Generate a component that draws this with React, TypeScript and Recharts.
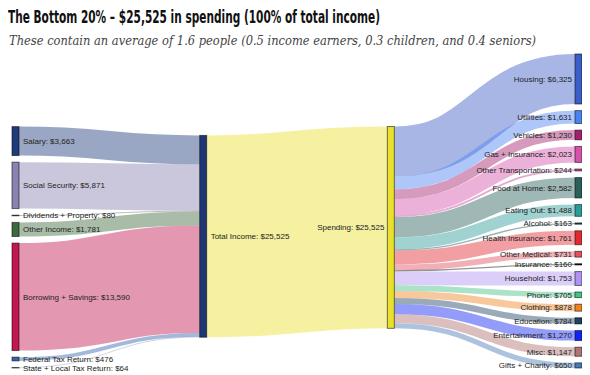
import React from 'react';
import { Sankey, Layer } from 'recharts';

const titleText = 'The Bottom 20% – $25,525 in spending (100% of total income)';
const subtitleText = 'These contain an average of 1.6 people (0.5 income earners, 0.3 children, and 0.4 seniors)';

const incomeSources = ['Salary', 'Social Security', 'Dividends + Property', 'Other Income', 'Borrowing + Savings', 'Federal Tax Return', 'State + Local Tax Return'];
const incomeValues = [3663, 5871, 80, 1781, 13590, 476, 64];
const totalIncomeLabel = 'Total Income';
const spendingLabel = 'Spending';
const spendingCategories = ['Housing', 'Utilities', 'Vehicles', 'Gas + Insurance', 'Other Transportation', 'Food at Home', 'Eating Out', 'Alcohol', 'Health Insurance', 'Other Medical', 'Insurance', 'Household', 'Phone', 'Clothing', 'Education', 'Entertainment', 'Misc', 'Gifts + Charity'];
const spendingValues = [6325, 1631, 1230, 2023, 244, 2582, 1488, 163, 1761, 731, 160, 1753, 705, 878, 784, 1270, 1147, 650];

const incomeColors = ['#1f3b7c', '#8a83b2', '#1a1a1a', '#3d6a3d', '#c0184f', '#3462b0', '#2c4a7c'];
const totalColor = '#1e3674';
const spendingColor = '#e8e02c';
const spendingColors = ['#3b5ec6', '#4c82f0', '#a3206c', '#d452aa', '#c24896', '#2b5f5b', '#2a9c99', '#1e5454', '#e02a30', '#e0505e', '#111111', '#b092f2', '#42c283', '#f08322', '#1f4262', '#1024f2', '#b07272', '#4a78b6'];

const sum = (a: number[]) => a.reduce((s, v) => s + v, 0);

const nodeNames = [...incomeSources, totalIncomeLabel, spendingLabel, ...spendingCategories];
const nodeColors = [...incomeColors, totalColor, spendingColor, ...spendingColors];
const totalIdx = incomeSources.length;
const spendIdx = totalIdx + 1;

const links = [
  ...incomeValues.map((v, i) => ({ source: i, target: totalIdx, value: v })),
  { source: totalIdx, target: spendIdx, value: sum(spendingValues) },
  ...spendingValues.map((v, j) => ({ source: spendIdx, target: spendIdx + 1 + j, value: v })),
];
const linkColors = [...incomeColors, spendingColor, ...spendingColors];

const data = { nodes: nodeNames.map((name) => ({ name })), links };

const fmt = (v: number) => '$' + Math.round(v).toLocaleString('en-US');

const TITLE_FONT = "'Liberation Sans Narrow', 'DejaVu Sans Condensed', 'Liberation Sans', sans-serif";
const SUB_FONT = "'DejaVu Serif', 'Liberation Serif', serif";

function fitScale(text: string, font: string, target: number) {
  try {
    const ctx = document.createElement('canvas').getContext('2d');
    if (!ctx) return 1;
    ctx.font = font;
    const w = ctx.measureText(text).width;
    if (!w) return 1;
    return Math.min(1, target / w);
  } catch (e) {
    return 1;
  }
}

const NodeShape = (props: any) => {
  const { x, y, width, height, index, payload } = props;
  const depth = payload && typeof payload.depth === 'number' ? payload.depth : 0;
  const labelRight = depth <= 1;
  const color = nodeColors[index] || '#333';
  return (
    <Layer key={`node-${index}`}>
      <rect x={x} y={y} width={width} height={Math.max(height, 0.5)} fill={color} stroke="#000" strokeOpacity={0.55} strokeWidth={1} />
      <text
        x={labelRight ? x + width + 4 : x - 3}
        y={y + height / 2}
        dy="0.35em"
        textAnchor={labelRight ? 'start' : 'end'}
        fontFamily="'Liberation Sans', Arial, sans-serif"
        fontSize={8}
        fill="#222"
      >
        {`${payload.name}: ${fmt(payload.value)}`}
      </text>
    </Layer>
  );
};

const LinkShape = (props: any) => {
  const { sourceX, targetX, sourceY, targetY, sourceControlX, targetControlX, linkWidth, index } = props;
  return (
    <path
      d={`M${sourceX},${sourceY} C${sourceControlX},${sourceY} ${targetControlX},${targetY} ${targetX},${targetY}`}
      fill="none"
      stroke={linkColors[index] || '#999'}
      strokeWidth={Math.max(linkWidth, 0.5)}
      strokeOpacity={0.45}
    />
  );
};

export default function App() {
  const titleScale = fitScale(titleText, `bold 17px ${TITLE_FONT}`, 372);
  const subScale = fitScale(subtitleText, `italic 13.5px ${SUB_FONT}`, 527);
  return (
    <div style={{ width: 582, height: 364 }}>
      <div style={{ height: 42, position: 'relative' }}>
        <div
          style={{
            position: 'absolute', left: 0, top: -1, fontFamily: TITLE_FONT, fontWeight: 'bold', fontSize: 17,
            lineHeight: '20px', color: '#111', whiteSpace: 'nowrap', transform: `scaleX(${titleScale})`, transformOrigin: 'left top',
          }}
        >
          {titleText}
        </div>
        <div
          style={{
            position: 'absolute', left: 1, top: 24, fontFamily: SUB_FONT, fontStyle: 'italic', fontSize: 13.5,
            lineHeight: '17px', color: '#444', whiteSpace: 'nowrap', transform: `scaleX(${subScale})`, transformOrigin: 'left top',
          }}
        >
          {subtitleText}
        </div>
      </div>
      <Sankey
        width={582}
        height={322}
        data={data}
        nodeWidth={7}
        nodePadding={6.6}
        margin={{ top: 4, right: 8, bottom: 4, left: 4 }}
        sort={false}
        iterations={32}
        node={<NodeShape />}
        link={<LinkShape />}
      />
    </div>
  );
}
